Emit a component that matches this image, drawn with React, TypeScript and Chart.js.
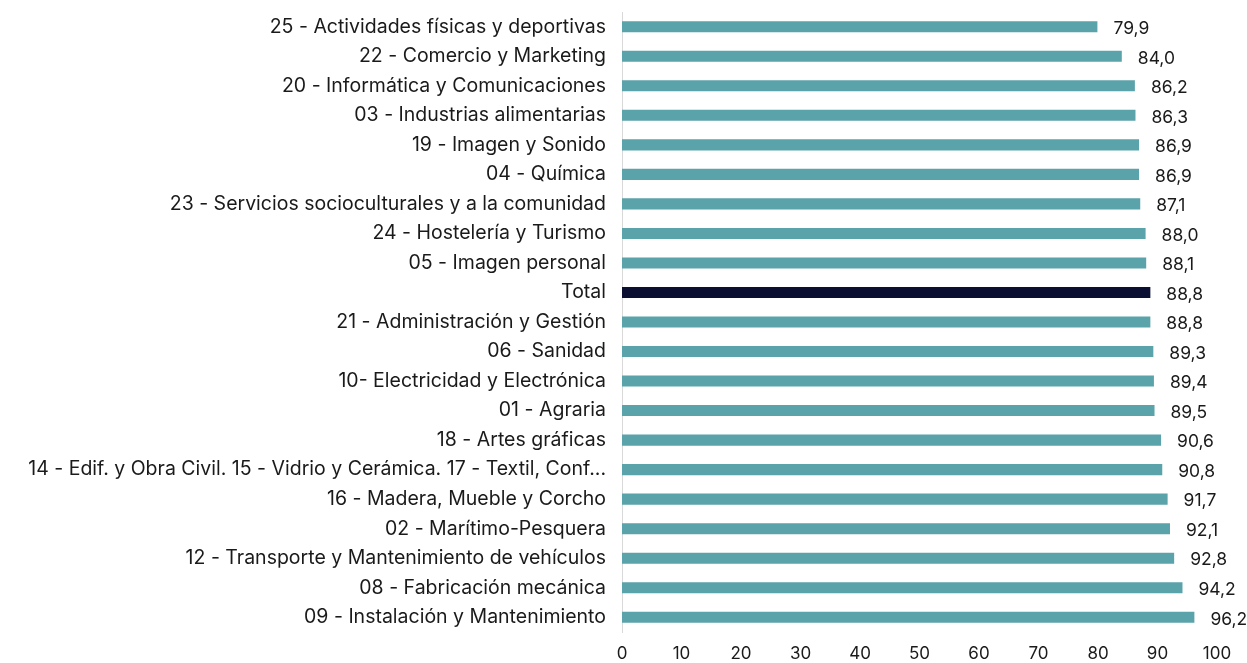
import React, { useEffect, useRef } from "react";
import { Chart, registerables } from "chart.js";

Chart.register(...registerables);

const categories: string[] = [
  "25 - Actividades físicas y deportivas",
  "22 - Comercio y Marketing",
  "20 - Informática y Comunicaciones",
  "03 - Industrias alimentarias",
  "19 - Imagen y Sonido",
  "04 - Química",
  "23 - Servicios socioculturales y a la comunidad",
  "24 - Hostelería y Turismo",
  "05 - Imagen personal",
  "Total",
  "21 - Administración y Gestión",
  "06 - Sanidad",
  "10- Electricidad y Electrónica",
  "01 - Agraria",
  "18 - Artes gráficas",
  "14 - Edif. y Obra Civil. 15 - Vidrio y Cerámica. 17 - Textil, Conf...",
  "16 - Madera, Mueble y Corcho",
  "02 - Marítimo-Pesquera",
  "12 - Transporte y Mantenimiento de vehículos",
  "08 - Fabricación mecánica",
  "09 - Instalación y Mantenimiento",
];

const values: number[] = [
  79.9, 84.0, 86.2, 86.3, 86.9, 86.9, 87.1, 88.0, 88.1, 88.8, 88.8, 89.3, 89.4,
  89.5, 90.6, 90.8, 91.7, 92.1, 92.8, 94.2, 96.2,
];

const xTicks: number[] = [0, 10, 20, 30, 40, 50, 60, 70, 80, 90, 100];

const TEAL = "#5BA3AA";
const NAVY = "#0B1033";
const FONT = "Inter, 'Liberation Sans', Arial, sans-serif";

const valueLabels = {
  id: "valueLabels",
  afterDatasetsDraw(chart: any) {
    const ctx = chart.ctx;
    const meta = chart.getDatasetMeta(0);
    ctx.save();
    ctx.font = `17.5px ${FONT}`;
    ctx.fillStyle = "#1a1a1a";
    ctx.textAlign = "left";
    ctx.textBaseline = "middle";
    meta.data.forEach((bar: any, i: number) => {
      const txt = values[i].toFixed(1).replace(".", ",");
      ctx.fillText(txt, bar.x + 16, bar.y + 2);
    });
    ctx.restore();
  },
};

export default function App() {
  const canvasRef = useRef<HTMLCanvasElement | null>(null);

  useEffect(() => {
    if (!canvasRef.current) return;
    const chart = new Chart(canvasRef.current, {
      type: "bar",
      data: {
        labels: categories,
        datasets: [
          {
            data: values,
            backgroundColor: categories.map((c) => (c === "Total" ? NAVY : TEAL)),
            borderWidth: 0,
            barPercentage: 0.75,
            categoryPercentage: 0.5,
          },
        ],
      },
      options: {
        indexAxis: "y",
        animation: false,
        responsive: false,
        maintainAspectRatio: false,
        layout: { padding: { left: 0, right: 30, top: 12, bottom: 0 } },
        plugins: {
          legend: { display: false },
          tooltip: { enabled: false },
        },
        scales: {
          x: {
            min: 0,
            max: 100,
            afterBuildTicks: (scale: any) => {
              scale.ticks = xTicks.map((v) => ({ value: v }));
            },
            grid: { display: false, drawTicks: false },
            border: { display: false },
            ticks: {
              padding: 12,
              color: "#1a1a1a",
              font: { family: FONT, size: 17 },
            },
            afterFit: (scale: any) => {
              scale.height = 31;
              scale.paddingTop = 0;
              scale.paddingBottom = 0;
            },
          },
          y: {
            grid: { display: false, drawTicks: false },
            border: { display: true, color: "#d9d9d9", width: 1 },
            ticks: {
              padding: 16,
              color: "#1a1a1a",
              autoSkip: false,
              font: { family: FONT, size: 19.5 },
            },
            afterFit: (scale: any) => {
              scale.width = 622;
              scale.paddingTop = 0;
              scale.paddingBottom = 0;
            },
          },
        },
      },
      plugins: [valueLabels],
    });
    return () => chart.destroy();
  }, []);

  return (
    <div style={{ position: "absolute", left: 0, top: 0, width: 1247, height: 663 }}>
      <canvas ref={canvasRef} width={1247} height={663} style={{ width: 1247, height: 663 }} />
    </div>
  );
}
